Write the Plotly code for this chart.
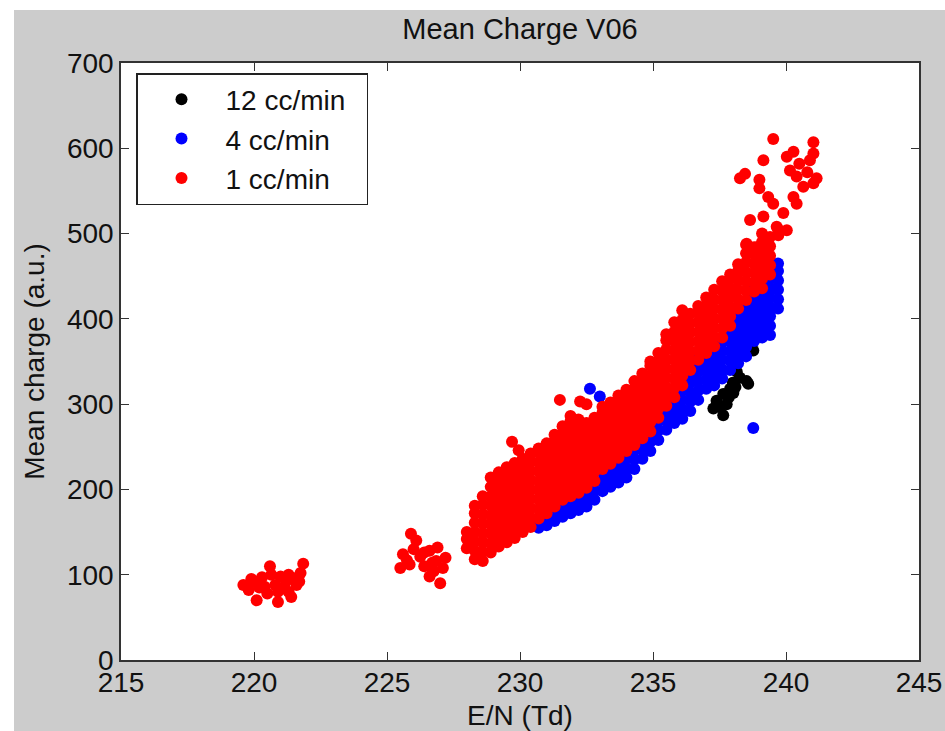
import plotly.graph_objects as go

# ---------------- data ----------------
# "1 cc/min" (red): main band, given as columns of E/N values with their charges
red_col_x = [228.0, 228.3, 228.6, 228.9, 229.2, 229.5, 229.8, 230.1, 230.4, 230.7,
             231.0, 231.3, 231.6, 231.9, 232.2, 232.5, 232.8, 233.1, 233.4, 233.7,
             234.0, 234.3, 234.6, 234.9, 235.2, 235.5, 235.8, 236.1, 236.4, 236.7,
             237.0, 237.3, 237.6, 237.9, 238.2, 238.5, 238.8, 239.1, 239.4, 239.7]
red_col_y = [
    [131, 142, 150],
    [118, 128, 139, 150, 161, 172, 181],
    [116, 127, 138, 149, 160, 171, 182, 192],
    [126, 137, 148, 159, 170, 181, 192, 203, 214],
    [133, 144, 155, 166, 177, 188, 199, 210, 220],
    [138, 149, 160, 171, 182, 193, 204, 215, 226],
    [143, 154, 165, 176, 187, 198, 209, 220, 231],
    [150, 161, 172, 183, 194, 205, 216, 227, 236],
    [156, 167, 178, 189, 200, 211, 222, 233, 242],
    [166, 177, 188, 199, 210, 221, 232, 243, 248],
    [172, 183, 194, 205, 216, 227, 238, 249, 254],
    [180, 191, 202, 213, 224, 235, 246, 257, 264],
    [188, 199, 210, 221, 232, 243, 254, 265, 274],
    [192, 203, 214, 225, 236, 247, 258, 269, 280, 286],
    [196, 207, 218, 229, 240, 251, 262, 273, 282],
    [202, 213, 224, 235, 246, 257, 268, 278],
    [210, 221, 232, 243, 254, 265, 276, 284],
    [224, 235, 246, 257, 268, 279, 290, 297],
    [230, 241, 252, 263, 274, 285, 296, 302],
    [237, 248, 259, 270, 281, 292, 303, 310],
    [245, 256, 267, 278, 289, 300, 311, 317],
    [252, 263, 274, 285, 296, 307, 318, 327],
    [260, 271, 282, 293, 304, 315, 326, 336],
    [268, 279, 290, 301, 312, 323, 334, 345, 350],
    [284, 295, 306, 317, 328, 339, 350, 360],
    [298, 309, 320, 331, 342, 353, 364, 375, 382],
    [308, 319, 330, 341, 352, 363, 374, 385, 396],
    [322, 333, 344, 355, 366, 377, 388, 399, 410],
    [340, 351, 362, 373, 384, 395, 406],
    [352, 363, 374, 385, 396, 407, 415],
    [360, 371, 382, 393, 404, 415, 425],
    [368, 379, 390, 401, 412, 423, 434],
    [378, 389, 400, 411, 422, 433, 444],
    [392, 403, 414, 425, 436, 447, 452],
    [412, 423, 434, 445, 456, 464],
    [422, 433, 444, 455, 466, 477, 487],
    [432, 443, 454, 465, 476, 484],
    [436, 447, 458, 469, 480, 490, 500],
    [452, 463, 474, 485, 496],
    [505],
]
# red isolated points and clusters
red_extra_x = [229.70, 229.95, 231.50, 232.26, 232.50,
               # high-field cluster
               238.27, 238.46, 238.65, 239.00, 239.00, 239.15, 239.15, 239.33, 239.52, 239.52,
               239.65, 239.71, 239.90, 240.03, 240.03, 240.15, 240.28, 240.28, 240.40, 240.40,
               240.50, 240.65, 240.80, 240.90, 241.03, 241.03, 241.03, 241.15, 238.90, 239.27, 238.52,
               # cluster near 220 Td
               219.6, 219.8, 220.0, 220.1, 220.2, 220.3, 220.5, 220.6, 220.65, 220.8, 220.9, 221.0,
               221.1, 221.2, 221.3, 221.4, 221.5, 221.6, 221.7, 221.75, 221.85, 220.4, 220.9, 221.3, 219.9,
               # cluster near 226 Td
               225.5, 225.6, 225.75, 225.9, 226.0, 226.1, 226.25, 226.4, 226.6, 226.75, 226.9,
               227.0, 227.2, 226.6, 226.85, 227.1, 226.4, 226.7, 225.85]
red_extra_y = [256, 246, 305, 303, 300,
               565, 570, 516, 563, 553, 520, 586, 543, 535, 611,
               508, 498, 524, 504, 590, 574, 596, 543, 567, 535,
               582, 555, 572, 586, 607, 594, 559, 565, 484, 481, 488,
               88, 82, 92, 70, 85, 97, 78, 110, 100, 88, 68, 98,
               84, 92, 80, 74, 96, 88, 92, 102, 113, 86, 80, 100, 95,
               108, 124, 117, 148, 130, 140, 121, 110, 128, 104, 132,
               90, 120, 98, 116, 108, 126, 114, 112]

# "4 cc/min" (blue)
blue_col_x = [230.7, 231.0, 231.3, 231.6, 231.9, 232.2, 232.5, 232.8, 233.1, 233.4,
              233.7, 234.0, 234.3, 234.6, 234.9, 235.2, 235.5, 235.8, 236.1, 236.4,
              236.7, 237.0, 237.3, 237.6, 237.9, 238.2, 238.5, 238.8, 239.1, 239.4, 239.7]
blue_col_y = [
    [155, 165], [158, 168], [163, 174], [168, 179, 190], [172, 183, 194],
    [176, 187, 198], [180, 191, 202], [188, 199, 210], [198, 209, 220, 230],
    [203, 214, 225, 235], [208, 219, 230, 241], [214, 225, 236, 247],
    [224, 235, 246, 257], [236, 247, 258, 268], [245, 256, 267, 278],
    [258, 269, 280, 291], [270, 281, 292, 303], [278, 289, 300, 311],
    [283, 294, 305, 316, 327], [292, 303, 314, 325, 336, 347],
    [305, 316, 327, 338, 349, 358], [318, 329, 340, 351, 362],
    [322, 333, 344, 355, 366], [330, 341, 352, 363, 374],
    [340, 351, 362, 373, 384, 395], [348, 359, 370, 381, 392, 403, 414],
    [356, 367, 378, 389, 400, 411, 420], [374, 385, 396, 407, 418, 429, 435],
    [378, 389, 400, 411, 422, 433, 440], [381, 392, 403, 414, 425, 436, 447, 458],
    [412, 423, 434, 445, 456, 465],
]
blue_extra_x = [238.77, 232.63, 233.00, 233.13]
blue_extra_y = [272, 318, 309, 289]

# "12 cc/min" (black)
black_x = [237.27, 237.39, 237.52, 237.64, 237.64, 237.77, 237.85, 237.90,
           238.00, 238.02, 238.10, 238.15, 238.27, 238.52, 238.58, 238.77]
black_y = [295, 304, 297, 287, 312, 300, 308, 318,
           325, 313, 320, 338, 331, 327, 324, 363]

x_ticks = [215, 220, 225, 230, 235, 240, 245]
y_ticks = [0, 100, 200, 300, 400, 500, 600, 700]
series_names = ["12 cc/min", "4 cc/min", "1 cc/min"]


def columns_to_points(col_x, col_y, extra_x, extra_y):
    xs, ys = [], []
    for cx, cys in zip(col_x, col_y):
        for cy in cys:
            xs.append(cx)
            ys.append(cy)
    return xs + list(extra_x), ys + list(extra_y)


red_x, red_y = columns_to_points(red_col_x, red_col_y, red_extra_x, red_extra_y)
blue_x, blue_y = columns_to_points(blue_col_x, blue_col_y, blue_extra_x, blue_extra_y)

FONT = "Liberation Sans, Arial, Helvetica, sans-serif"
TXT = "#111111"
AX = "#333333"
MS = 12

fig = go.Figure()
fig.add_trace(go.Scatter(x=black_x, y=black_y, mode="markers", name=series_names[0] + "\u00a0\u00a0",
                         legendgroup="a", marker=dict(color="black", size=MS, line=dict(width=0))))
fig.add_trace(go.Scatter(x=blue_x, y=blue_y, mode="markers", name=series_names[1],
                         legendgroup="b", marker=dict(color="#0000ff", size=MS, line=dict(width=0))))
fig.add_trace(go.Scatter(x=red_x, y=red_y, mode="markers", name=series_names[2],
                         legendgroup="c", marker=dict(color="#ff0000", size=MS, line=dict(width=0))))

L, R, T, B = 121, 26, 63, 71
W, H = 945, 731
PW, PH = W - L - R, H - T - B

axis_common = dict(
    showgrid=False, zeroline=False, showline=True, mirror="ticks", automargin=False,
    linecolor=AX, linewidth=1.5, ticks="inside", ticklen=8, tickwidth=1.2,
    tickcolor=AX, tickfont=dict(family=FONT, size=28, color=TXT),
)

fig.update_layout(
    width=W, height=H, autosize=False,
    margin=dict(l=L, r=R, t=T, b=B, pad=0, autoexpand=False),
    paper_bgcolor="#cccccc", plot_bgcolor="white",
    font=dict(family=FONT, color=TXT),
    title=dict(text="Mean Charge V06", x=0.5, xref="paper", xanchor="center",
               y=1 - 29 / H, yref="container", yanchor="middle",
               font=dict(family=FONT, size=29, color=TXT)),
    xaxis=dict(range=[215, 245], tickvals=x_ticks, ticktext=[str(v) for v in x_ticks],
               ticklabelstandoff=-3,
               title=dict(text="E/N (Td)", font=dict(family=FONT, size=28, color=TXT), standoff=9),
               **axis_common),
    yaxis=dict(range=[0, 700], tickvals=y_ticks, ticktext=[str(v) for v in y_ticks],
               title=dict(text="Mean charge (a.u.)", font=dict(family=FONT, size=28, color=TXT), standoff=14),
               **axis_common),
    showlegend=True,
    legend=dict(x=(136 - L) / PW, y=(H - B - 73) / PH, xanchor="left", yanchor="top",
                bgcolor="white", bordercolor="#222222", borderwidth=1.5,
                font=dict(family=FONT, size=28, color=TXT), itemwidth=78,
                tracegroupgap=0, traceorder="normal"),
    shapes=[
        dict(type="rect", xref="paper", yref="paper", x0=-0.3, x1=(14 - L) / PW,
             y0=-0.3, y1=1.3, fillcolor="white", line=dict(width=0), layer="below"),
        dict(type="rect", xref="paper", yref="paper", x0=-0.3, x1=1.3,
             y0=(H - B - 10) / PH, y1=1.3, fillcolor="white", line=dict(width=0), layer="below"),
    ],
)

fig.write_html(
    "out.html",
    config={"responsive": False, "displayModeBar": False},
    post_script="document.body.style.margin='0';document.body.style.overflow='hidden';",
)
